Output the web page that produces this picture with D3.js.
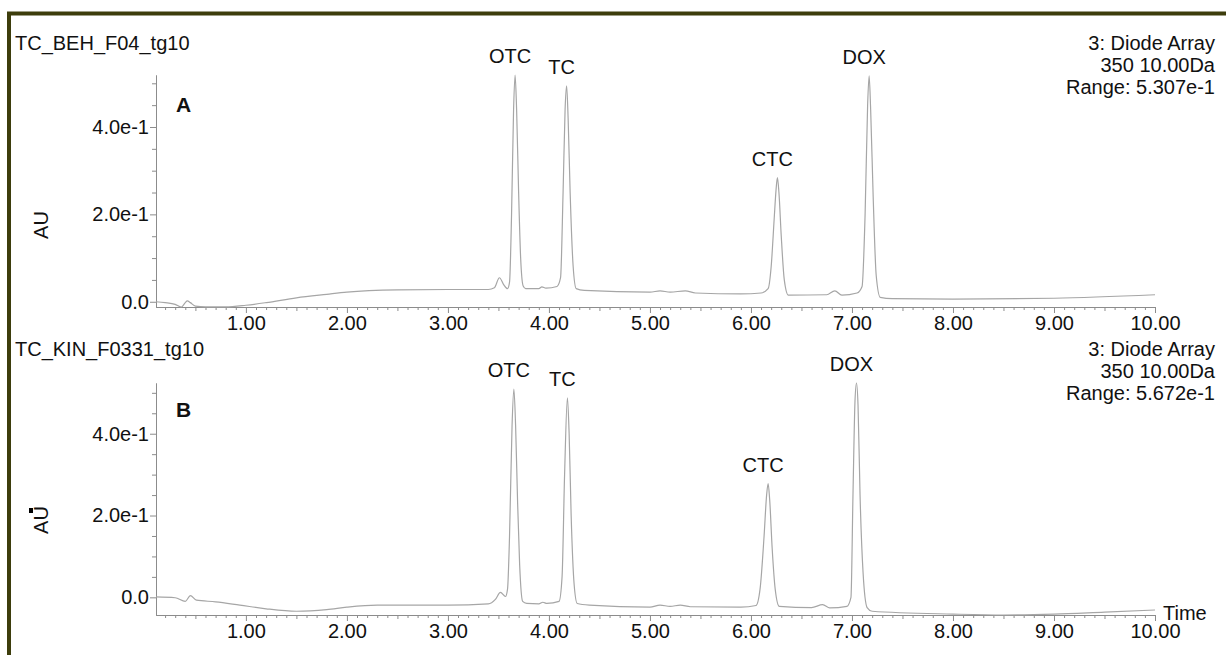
<!DOCTYPE html>
<html>
<head>
<meta charset="utf-8">
<script src="https://cdn.jsdelivr.net/npm/d3@7"></script>
<style>
  body { margin: 0; background: #fff; }
  text { font-family: "Liberation Sans", Arial, sans-serif; fill: #111; }
</style>
</head>
<body>
<svg id="chart" width="1226" height="655"></svg>
<script>
// chromatogram A (TC_BEH_F04_tg10)
var timeA = [0.11, 0.20, 0.30, 0.36, 0.40, 0.42, 0.45, 0.50, 0.60, 0.80, 1.00, 1.20, 1.50, 1.80, 2.00, 2.50, 3.00, 3.40,
  3.46, 3.51, 3.55, 3.59, 3.61, 3.63, 3.65, 3.665, 3.68, 3.70, 3.72, 3.745, 3.77, 3.90, 3.93, 3.97, 4.08,
  4.115, 4.14, 4.16, 4.175, 4.19, 4.21, 4.24, 4.27, 4.35, 5.00, 5.10, 5.20, 5.35, 5.45, 5.90, 6.10,
  6.17, 6.20, 6.23, 6.248, 6.262, 6.277, 6.30, 6.33, 6.37, 6.75, 6.83, 6.90, 7.05, 7.10,
  7.13, 7.155, 7.17, 7.185, 7.21, 7.24, 7.28, 7.40, 8.00, 9.00, 10.00];
var auA = [0.000, -0.002, -0.006, -0.012, -0.002, 0.002, -0.002, -0.010, -0.0117, -0.0117, -0.008, -0.002, 0.009, 0.017, 0.022, 0.027, 0.028, 0.028,
  0.032, 0.055, 0.040, 0.030, 0.045, 0.200, 0.440, 0.519, 0.440, 0.250, 0.100, 0.036, 0.030, 0.030, 0.034, 0.031, 0.035,
  0.055, 0.250, 0.440, 0.494, 0.420, 0.250, 0.080, 0.030, 0.026, 0.022, 0.025, 0.022, 0.025, 0.020, 0.018, 0.020,
  0.030, 0.080, 0.190, 0.255, 0.284, 0.250, 0.150, 0.050, 0.015, 0.016, 0.025, 0.015, 0.020, 0.035,
  0.200, 0.450, 0.517, 0.440, 0.240, 0.060, 0.010, 0.007, 0.006, 0.008, 0.016];

// chromatogram B (TC_KIN_F0331_tg10)
var timeB = [0.11, 0.30, 0.40, 0.45, 0.51, 0.70, 0.94, 1.20, 1.50, 1.80, 2.00, 2.30, 3.00, 3.40,
  3.47, 3.52, 3.57, 3.59, 3.61, 3.635, 3.653, 3.67, 3.69, 3.71, 3.74, 3.78, 3.90, 3.94, 3.98, 4.10,
  4.13, 4.155, 4.183, 4.20, 4.22, 4.25, 4.28, 4.40, 5.00, 5.10, 5.20, 5.30, 5.40, 5.90, 6.05,
  6.09, 6.13, 6.155, 6.17, 6.185, 6.21, 6.24, 6.28, 6.60, 6.71, 6.78, 6.95,
  6.99, 7.01, 7.03, 7.045, 7.06, 7.08, 7.11, 7.15, 7.20, 8.00, 8.50, 9.00, 9.50, 10.00];
var auB = [0.001, -0.001, -0.010, 0.004, -0.007, -0.011, -0.019, -0.028, -0.034, -0.030, -0.024, -0.019, -0.019, -0.016,
  -0.005, 0.012, 0.002, 0.020, 0.150, 0.420, 0.509, 0.420, 0.230, 0.080, -0.010, -0.015, -0.016, -0.012, -0.015, -0.010,
  0.050, 0.300, 0.488, 0.400, 0.200, 0.030, -0.015, -0.019, -0.024, -0.019, -0.022, -0.019, -0.023, -0.024, -0.020,
  0.020, 0.150, 0.250, 0.278, 0.240, 0.120, 0.020, -0.022, -0.025, -0.018, -0.026, -0.022,
  0.000, 0.250, 0.480, 0.524, 0.470, 0.250, 0.060, -0.025, -0.034, -0.041, -0.0432, -0.041, -0.036, -0.031];

var sampleNames = ["TC_BEH_F04_tg10", "TC_KIN_F0331_tg10"];
var panelLetters = ["A", "B"];
var detectorLines = [
  ["3: Diode Array", "350 10.00Da", "Range: 5.307e-1"],
  ["3: Diode Array", "350 10.00Da", "Range: 5.672e-1"]
];
var peakNames = ["OTC", "TC", "CTC", "DOX"];
var peakTimesA = [3.665, 4.175, 6.262, 7.17];
var peakTimesB = [3.653, 4.183, 6.17, 7.045];
var xTickVals = [1, 2, 3, 4, 5, 6, 7, 8, 9, 10];
var xTickLabels = ["1.00", "2.00", "3.00", "4.00", "5.00", "6.00", "7.00", "8.00", "9.00", "10.00"];
var yTickVals = [0, 0.2, 0.4];
var yTickLabels = ["0.0", "2.0e-1", "4.0e-1"];

var svg = d3.select("#chart");
var axisColor = "#8c8c8c";
var traceColor = "#a6a6a6";

// frame
svg.append("rect")
  .attr("x", 9).attr("y", 13.5)
  .attr("width", 1400).attr("height", 800)
  .attr("fill", "none")
  .attr("stroke", "#3d3d0c")
  .attr("stroke-width", 4);

var x = d3.scaleLinear().domain([0.11, 10]).range([156, 1155]);

var panels = [
  {times: timeA, au: auA, peaks: peakTimesA, top: 75, bottom: 307, titleY: 50, letterY: 112, auY: 225},
  {times: timeB, au: auB, peaks: peakTimesB, top: 383, bottom: 615, titleY: 356, letterY: 417, auY: 520}
];

panels.forEach(function(p, i) {
  var data = p.times.map(function(t, k) { return {t: t, v: p.au[k]}; });
  var y = d3.scaleLinear()
    .domain(d3.extent(data, function(d) { return d.v; }))
    .range([p.bottom, p.top]);

  var g = svg.append("g");

  // x minor ticks (tenths, halves a bit longer)
  var minor = d3.range(2, 100).map(function(k) { return k / 10; })
    .filter(function(v) { return Math.abs(v - Math.round(v)) > 1e-6; });
  g.append("g")
    .attr("transform", "translate(0," + p.bottom + ")")
    .call(d3.axisBottom(x).tickValues(minor.filter(function(v) { return Math.abs(v * 2 - Math.round(v * 2)) > 1e-6; }))
      .tickSize(3).tickSizeOuter(0).tickFormat(""))
    .call(styleAxis);
  g.append("g")
    .attr("transform", "translate(0," + p.bottom + ")")
    .call(d3.axisBottom(x).tickValues(minor.filter(function(v) { return Math.abs(v * 2 - Math.round(v * 2)) < 1e-6; }))
      .tickSize(4).tickSizeOuter(0).tickFormat(""))
    .call(styleAxis);
  var xa = g.append("g")
    .attr("transform", "translate(0," + p.bottom + ")")
    .call(d3.axisBottom(x).tickValues(xTickVals).tickSize(6).tickSizeOuter(0)
      .tickFormat(function(d, k) { return xTickLabels[k]; }))
    .call(styleAxis);
  xa.selectAll("text").attr("dy", null).attr("y", 23).style("font-size", "20px");

  // y axis
  var yMinor = d3.range(-1, 12).map(function(k) { return k * 0.05; })
    .filter(function(v) { return v >= y.domain()[0] && v <= y.domain()[1] && Math.abs(v * 5 - Math.round(v * 5)) > 1e-6; });
  g.append("g")
    .attr("transform", "translate(156,0)")
    .call(d3.axisLeft(y).tickValues(yMinor).tickSize(4).tickSizeOuter(0).tickFormat(""))
    .call(styleAxis);
  var ya = g.append("g")
    .attr("transform", "translate(156,0)")
    .call(d3.axisLeft(y).tickValues(yTickVals).tickSize(6).tickSizeOuter(0)
      .tickFormat(function(d, k) { return yTickLabels[k]; }))
    .call(styleAxis);
  ya.selectAll("text").attr("x", -7).style("font-size", "20px");

  // trace
  g.append("path")
    .datum(data)
    .attr("fill", "none")
    .attr("stroke", traceColor)
    .attr("stroke-width", 1.2)
    .attr("d", d3.line()
      .x(function(d) { return x(d.t); })
      .y(function(d) { return y(d.v); })
      .curve(d3.curveMonotoneX));

  // peak labels
  p.peaks.forEach(function(pt, k) {
    var idx = p.times.indexOf(pt);
    g.append("text")
      .attr("x", x(pt) - 5)
      .attr("y", y(p.au[idx]) - 12)
      .attr("text-anchor", "middle")
      .style("font-size", "20px")
      .text(peakNames[k]);
  });

  // header texts
  g.append("text").attr("x", 15).attr("y", p.titleY).style("font-size", "20px").text(sampleNames[i]);
  detectorLines[i].forEach(function(s, k) {
    g.append("text").attr("x", 1215).attr("y", p.titleY + k * 22)
      .attr("text-anchor", "end").style("font-size", "20px").text(s);
  });
  g.append("text").attr("x", 176).attr("y", p.letterY)
    .style("font-size", "21px").style("font-weight", "bold").text(panelLetters[i]);
  g.append("text")
    .attr("transform", "translate(48," + p.auY + ") rotate(-90)")
    .attr("text-anchor", "middle")
    .style("font-size", "20px").text("AU");
});

// little marker in front of the second AU label
svg.append("rect").attr("x", 29).attr("y", 508).attr("width", 4).attr("height", 5).attr("fill", "#000");

svg.append("text").attr("x", 1163).attr("y", 620).style("font-size", "20px").text("Time");

function styleAxis(sel) {
  sel.select(".domain").attr("stroke", axisColor);
  sel.selectAll(".tick line").attr("stroke", axisColor);
  sel.selectAll("text").style("fill", "#111").style("font-family", "'Liberation Sans', Arial, sans-serif");
}
</script>
</body>
</html>
